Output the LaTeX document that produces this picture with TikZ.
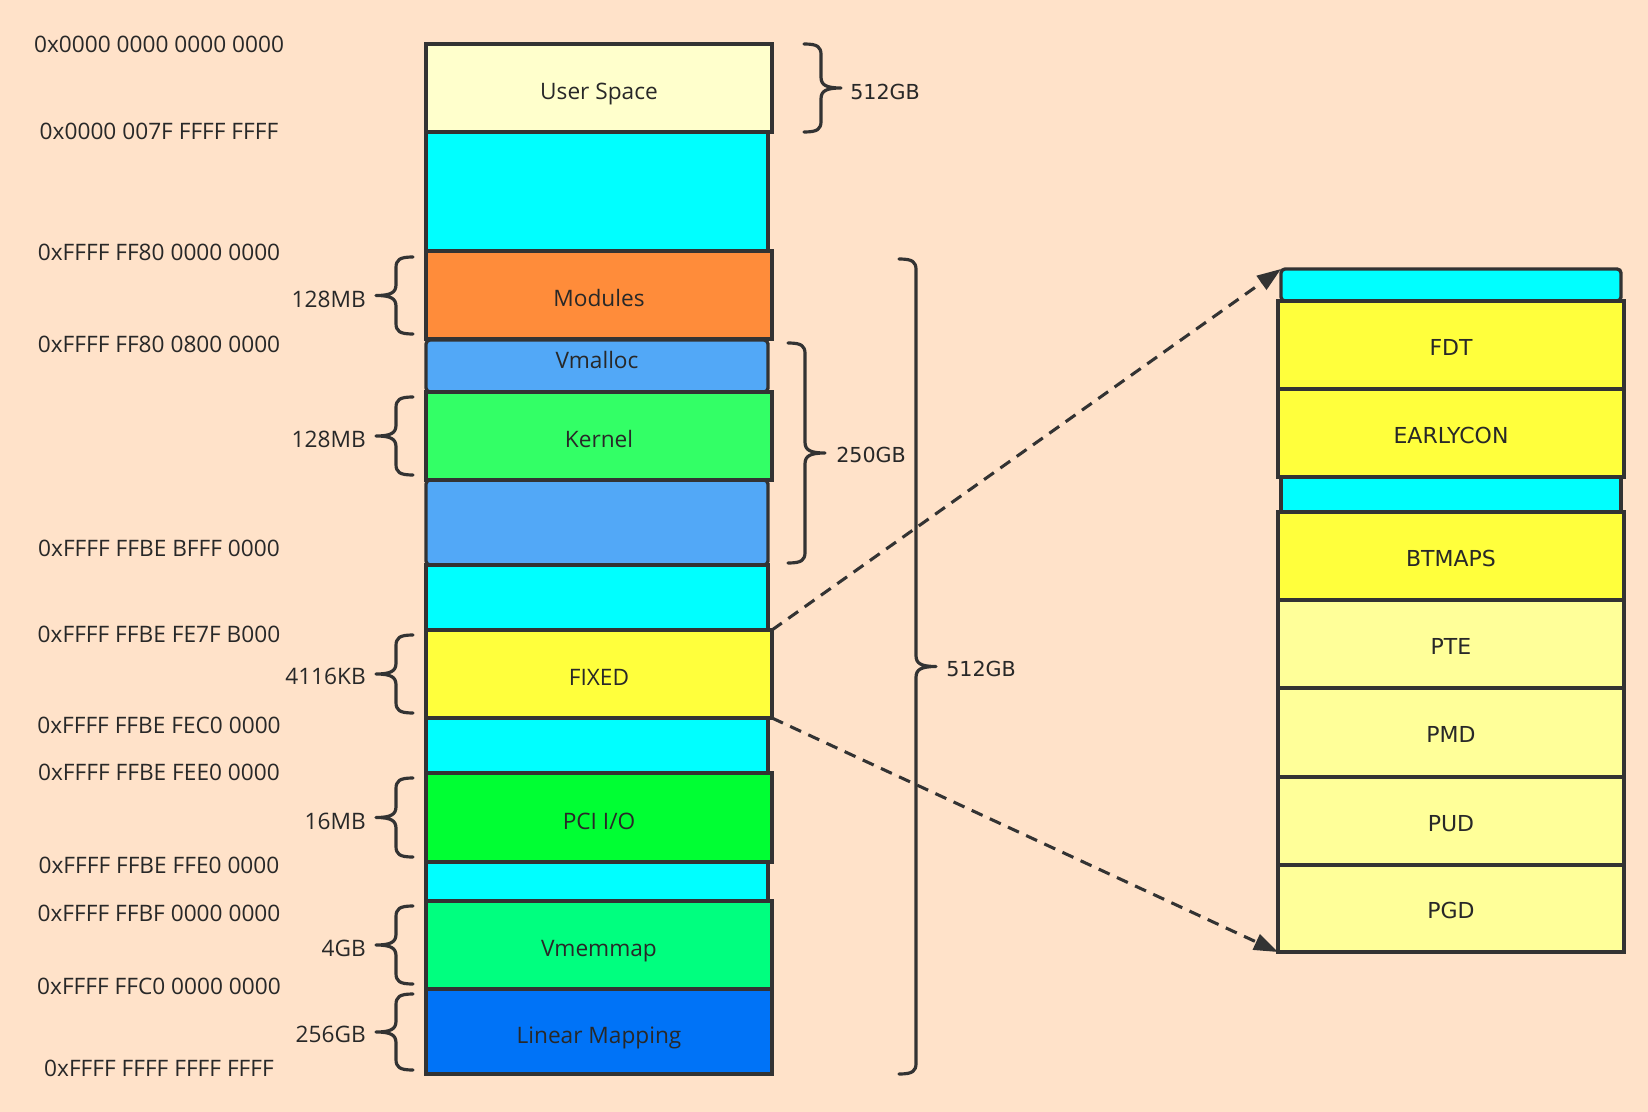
\documentclass[tikz,border=0pt]{standalone}
\usepackage{fontspec}
\setmainfont{Open Sans}
\newfontfamily\dvs{DejaVu Sans}
\usetikzlibrary{arrows.meta}
\definecolor{bg}{RGB}{255,226,201}
\definecolor{linec}{RGB}{51,51,51}
\definecolor{txt}{RGB}{40,40,40}
\definecolor{usercol}{RGB}{255,255,204}
\definecolor{cyanc}{RGB}{0,255,255}
\definecolor{modcol}{RGB}{255,140,58}
\definecolor{vmcol}{RGB}{82,168,247}
\definecolor{kercol}{RGB}{51,255,102}
\definecolor{yelcol}{RGB}{255,255,60}
\definecolor{pcicol}{RGB}{0,255,51}
\definecolor{vmmcol}{RGB}{0,255,127}
\definecolor{lincol}{RGB}{0,115,247}
\definecolor{lyelcol}{RGB}{255,255,153}
% block: name, x1, x2, y1, y2, style, text
\newcommand\memblk[7]{\node[#6, minimum width={(#3-#2)*0.75}, minimum height={(#5-#4)*0.75}] (#1) at ({(#2+#3)/2},{(#4+#5)/2}) {#7};}
% curly brace: x of ends, top y, bottom y, direction (+1 tip left, -1 tip right)
\newcommand\crbrace[4]{%
\draw[brc] (#1,#2) .. controls ({#1-(#4)*14},#2) and ({#1-(#4)*17},{#2+3}) .. ({#1-(#4)*17},{#2+11})
 -- ({#1-(#4)*17},{(#2+#3)/2-11}) .. controls ({#1-(#4)*17},{(#2+#3)/2-3}) and ({#1-(#4)*22},{(#2+#3)/2}) .. ({#1-(#4)*37},{(#2+#3)/2})
 .. controls ({#1-(#4)*22},{(#2+#3)/2}) and ({#1-(#4)*17},{(#2+#3)/2+3}) .. ({#1-(#4)*17},{(#2+#3)/2+11})
 -- ({#1-(#4)*17},{#3-11}) .. controls ({#1-(#4)*17},{#3-3}) and ({#1-(#4)*14},#3) .. (#1,#3);}
\begin{document}
\begin{tikzpicture}[x=0.75pt,y=-0.75pt,
  blk/.style={draw=linec, line width=2.5pt, inner sep=0pt, outer sep=0pt, text=txt, font=\fontsize{17}{20}\selectfont, text height=17.5pt, text depth=0pt},
  rblk/.style={blk, font=\dvs\fontsize{16.5}{20}\selectfont, text height=15.2pt},
  addr/.style={text=txt, font=\fontsize{17}{20}\selectfont, inner sep=0pt},
  sz/.style={addr, anchor=east},
  gb/.style={text=txt, font=\dvs\fontsize{15.5}{20}\selectfont, inner sep=0pt, anchor=west},
  brc/.style={draw=linec, line width=2.4pt, line cap=round, line join=round},
  ptr/.style={draw=linec, line width=2.3pt, dash pattern=on 9pt off 6pt, -{Triangle[length=18pt,width=12.5pt]}},
]
\fill[bg] (0,0) rectangle (1648,1112);
\useasboundingbox (0,0) rectangle (1648,1112);

% ---- left column ----
\memblk{cyan1}{426}{768}{132}{251}{blk,fill=cyanc}{}
\memblk{vmal}{426}{768}{340}{392}{blk,fill=vmcol,rounded corners=3pt}{\raisebox{7pt}{Vmalloc}}
\memblk{vmal2}{426}{768}{480}{565}{blk,fill=vmcol,rounded corners=3pt}{}
\memblk{cyan2}{426}{768}{565}{630}{blk,fill=cyanc}{}
\memblk{cyan3}{426}{768}{718}{773}{blk,fill=cyanc}{}
\memblk{cyan4}{426}{768}{862}{901}{blk,fill=cyanc}{}
\memblk{user}{426}{772}{44}{132}{blk,fill=usercol}{User Space}
\memblk{mod}{426}{772}{251}{339}{blk,fill=modcol}{Modules}
\memblk{ker}{426}{772}{392}{480}{blk,fill=kercol}{Kernel}
\memblk{fixed}{426}{772}{630}{718}{blk,fill=yelcol}{FIXED}
\memblk{pci}{426}{772}{773}{862}{blk,fill=pcicol}{PCI I/O}
\memblk{vmm}{426}{772}{901}{989}{blk,fill=vmmcol}{Vmemmap}
\memblk{lin}{426}{772}{989}{1074}{blk,fill=lincol}{Linear Mapping}

% ---- right column ----
\memblk{rc1}{1281}{1621}{269}{301}{blk,fill=cyanc,rounded corners=3pt}{}
\memblk{rc2}{1281}{1621}{477}{512}{blk,fill=cyanc}{}
\memblk{fdt}{1278}{1624}{301}{389}{rblk,fill=yelcol}{FDT}
\memblk{early}{1278}{1624}{389}{477}{rblk,fill=yelcol}{EARLYCON}
\memblk{btm}{1278}{1624}{512}{600}{rblk,fill=yelcol}{BTMAPS}
\memblk{pte}{1278}{1624}{600}{688}{rblk,fill=lyelcol}{PTE}
\memblk{pmd}{1278}{1624}{688}{777}{rblk,fill=lyelcol}{PMD}
\memblk{pud}{1278}{1624}{777}{865}{rblk,fill=lyelcol}{PUD}
\memblk{pgd}{1278}{1624}{865}{952}{rblk,fill=lyelcol}{PGD}

% ---- addresses ----
\node[addr] (a1) at (159,44) {0x0000 0000 0000 0000};
\node[addr] (a2) at (159,131) {0x0000 007F FFFF FFFF};
\node[addr] (a3) at (159,252) {0xFFFF FF80 0000 0000};
\node[addr] (a4) at (159,344) {0xFFFF FF80 0800 0000};
\node[addr] (a5) at (159,548) {0xFFFF FFBE BFFF 0000};
\node[addr] (a6) at (159,634) {0xFFFF FFBE FE7F B000};
\node[addr] (a7) at (159,725) {0xFFFF FFBE FEC0 0000};
\node[addr] (a8) at (159,772) {0xFFFF FFBE FEE0 0000};
\node[addr] (a9) at (159,865) {0xFFFF FFBE FFE0 0000};
\node[addr] (a10) at (159,913) {0xFFFF FFBF 0000 0000};
\node[addr] (a11) at (159,986) {0xFFFF FFC0 0000 0000};
\node[addr] (a12) at (159,1068) {0xFFFF FFFF FFFF FFFF};

% ---- left braces and sizes ----
\crbrace{413}{257}{334}{1}
\node[sz] (s1) at (366,299) {128MB};
\crbrace{413}{397}{475}{1}
\node[sz] (s2) at (366,439) {128MB};
\crbrace{413}{635}{713}{1}
\node[sz] (s3) at (366,676) {4116KB};
\crbrace{413}{778}{857}{1}
\node[sz] (s4) at (366,821) {16MB};
\crbrace{413}{906}{984}{1}
\node[sz] (s5) at (366,948) {4GB};
\crbrace{413}{994}{1070}{1}
\node[sz] (s6) at (366,1034) {256GB};

% ---- right braces ----
\crbrace{804}{44}{132}{-1}
\node[gb] (g1) at (850,92) {512GB};
\crbrace{788}{343}{563}{-1}
\node[gb] (g2) at (836,455) {250GB};
\crbrace{899}{259}{1074}{-1}
\node[gb] (g3) at (946,669) {512GB};

% ---- pointers ----
\draw[ptr] (fixed.north east) -- (rc1.north west);
\draw[ptr] (fixed.south east) -- (pgd.south west);
\end{tikzpicture}
\end{document}
